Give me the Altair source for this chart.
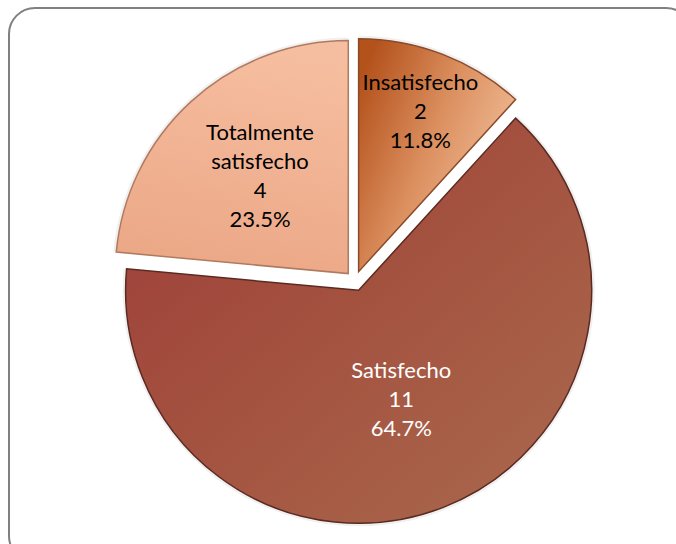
import math
import altair as alt
import pandas as pd

# ---- data ----
categories = ["Insatisfecho", "Satisfecho", "Totalmente satisfecho"]
counts = [2, 11, 4]
label_lines = [["Insatisfecho"], ["Satisfecho"], ["Totalmente", "satisfecho"]]

# ---- layout / style ----
W, H = 676, 544
CX, CY = 355, 281          # pie centre
R = 233                    # pie radius
EXPLODE = 10               # slice explosion distance
LABEL_R = {"Insatisfecho": 181, "Satisfecho": 128, "Totalmente satisfecho": 141}
FONT = "Lato"
FS, LH = 22, 29

total = sum(counts)
rows = []
cum = 0
for cat, n, lines in zip(categories, counts, label_lines):
    t0, t1 = cum, cum + n
    cum = t1
    mid = (t0 + t1) / total * math.pi
    label = lines + [str(n), f"{n / total * 100:.1f}%"]
    rows.append({
        "category": cat,
        "count": n,
        "t0": t0,
        "t1": t1,
        "px": CX + EXPLODE * math.sin(mid),
        "py": CY - EXPLODE * math.cos(mid),
        "lx": CX + LABEL_R[cat] * math.sin(mid),
        # first line position so that the block is centred on the label point
        "ly": CY - LABEL_R[cat] * math.cos(mid) - (len(label) - 1) * LH / 2,
        "label": label,
    })
df = pd.DataFrame(rows)

theta_scale = alt.Scale(domain=[0, total], range=[0, 2 * math.pi])

def grad(stops, x1=0, y1=0, x2=1, y2=1):
    return alt.Gradient(
        gradient="linear", x1=x1, y1=y1, x2=x2, y2=y2,
        stops=[alt.GradientStop(color=c, offset=o) for o, c in stops],
    )

fills = {
    "Insatisfecho": grad([(0, "#b4521c"), (0.45, "#dc9060"), (1, "#f6caa8")], 0, 0.2, 1, 0.8),
    "Satisfecho": grad([(0, "#9e3c38"), (0.5, "#a45340"), (1, "#aa6a4e")], 0, 0, 1, 1),
    "Totalmente satisfecho": grad([(0, "#f6bea0"), (1, "#eba786")], 0.5, 0, 0.3, 1),
}
strokes = {
    "Insatisfecho": "#8a4a2a",
    "Satisfecho": "#5a2a22",
    "Totalmente satisfecho": "#b07a60",
}

base = alt.Chart(df)

shadow = base.mark_arc(radius=R + 3, fill="#000000", fillOpacity=0.06).encode(
    theta=alt.Theta("t0:Q", scale=theta_scale),
    theta2="t1:Q",
    x=alt.X("px:Q", scale=None),
    y=alt.Y("py:Q", scale=None),
)

slices = []
for cat in categories:
    slices.append(
        base.transform_filter(alt.datum.category == cat)
        .mark_arc(radius=R, fill=fills[cat], stroke=strokes[cat], strokeWidth=1.5)
        .encode(
            theta=alt.Theta("t0:Q", scale=theta_scale),
            theta2="t1:Q",
            x=alt.X("px:Q", scale=None),
            y=alt.Y("py:Q", scale=None),
        )
    )

labels = base.mark_text(
    font=FONT, fontSize=FS, lineHeight=LH, align="center", baseline="middle"
).encode(
    x=alt.X("lx:Q", scale=None),
    y=alt.Y("ly:Q", scale=None),
    text="label",
    color=alt.condition(alt.datum.category == "Satisfecho", alt.value("#ffffff"), alt.value("#000000")),
)

border = alt.Chart(pd.DataFrame({"k": [0]})).mark_rect(
    filled=False, stroke="#808080", strokeWidth=2, cornerRadius=26
).encode(
    x=alt.value(9), x2=alt.value(692), y=alt.value(8), y2=alt.value(562)
)

chart = alt.layer(border, shadow, *slices, labels).properties(
    width=W, height=H, padding=0, autosize="none"
).configure_view(stroke=None)

chart.save("out.html", embed_options={"renderer": "svg", "actions": False})
